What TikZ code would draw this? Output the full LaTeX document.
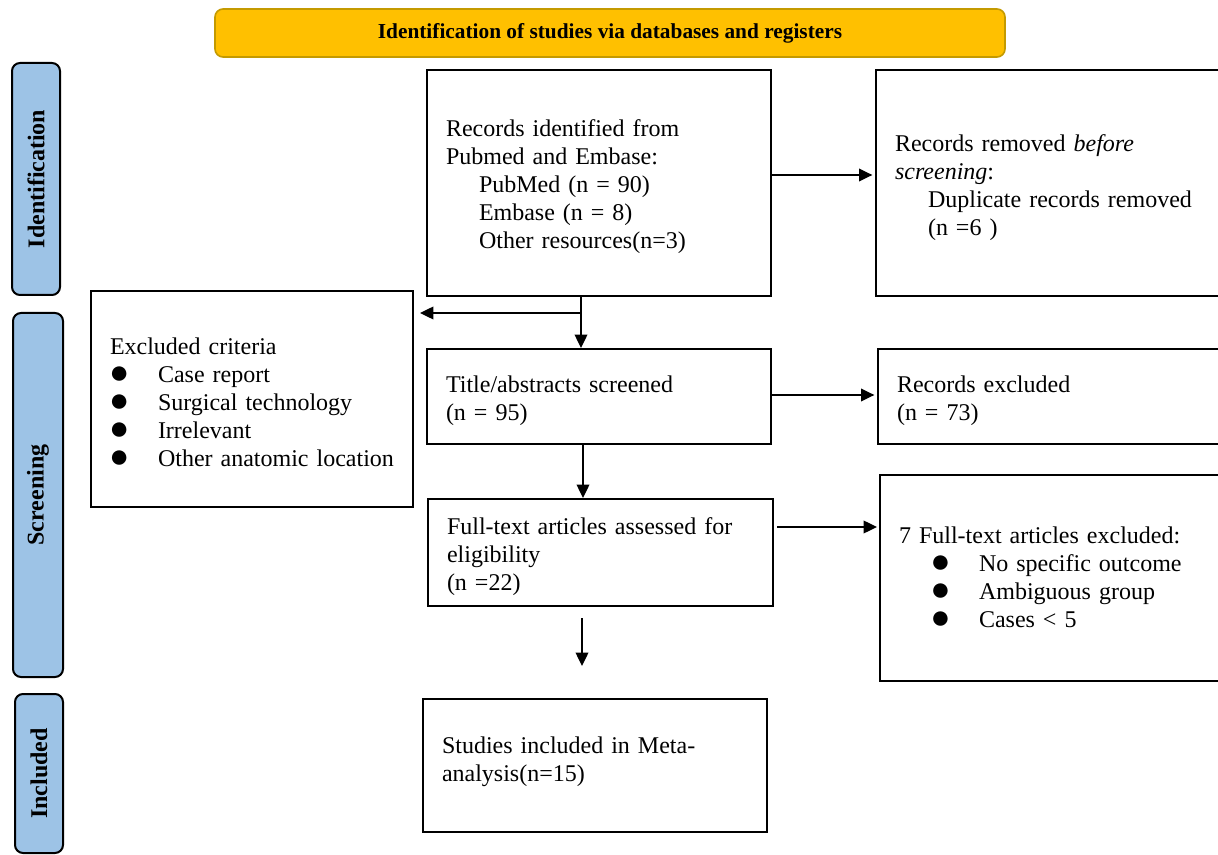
\documentclass[tikz,border=0pt]{standalone}
\usepackage{fontspec}
\setmainfont{Liberation Serif}
\usetikzlibrary{arrows.meta,calc}
\definecolor{bannerfill}{HTML}{FFC000}
\definecolor{bannerdraw}{HTML}{C49A00}
\definecolor{sidefill}{HTML}{9DC3E6}
\newcommand{\ind}{\hspace*{24.75pt}}
\newcommand{\tstrut}[1]{\rule{0pt}{#1}}
\newcommand{\bigbul}{\raisebox{-0.8pt}{\scalebox{1.4}{●}}}
\newcommand{\bulC}{\makebox[36pt][l]{\hspace*{-0.75pt}\bigbul}}
\newcommand{\bulG}{\hspace*{23.5pt}\makebox[36.5pt][l]{\bigbul}}
\begin{document}
\begin{tikzpicture}[x=0.75pt,y=-0.75pt,
  box/.style={draw=black,line width=1.5pt,rectangle,align=left,inner xsep=14.25pt,inner ysep=0pt,
    font=\fontsize{18}{21}\selectfont},
  sidebar/.style={draw=black,line width=1.5pt,fill=sidefill,rounded corners=6pt,rotate=90,
    inner sep=0pt,font=\bfseries\fontsize{18}{21}\selectfont},
  banner/.style={draw=bannerdraw,line width=1.2pt,fill=bannerfill,rounded corners=6pt,
    inner sep=0pt,font=\bfseries\fontsize{16}{19}\selectfont},
  arr/.style={line width=1pt,-{Triangle[length=10pt,width=9.5pt]}}]
\useasboundingbox (0,0) rectangle (1218,855);
\clip (0,0) rectangle (1218,855);

% banner
\node[banner,minimum width=592.5pt,minimum height=36pt] (ban) at (610,33)
  {Identification of studies via databases and registers};

% side bars
\node[sidebar,minimum width=174pt,minimum height=36pt] (sid) at (36,179) {Identification};
\node[sidebar,minimum width=273pt,minimum height=37.5pt] (sscr) at (38,495) {Screening};
\node[sidebar,minimum width=119.25pt,minimum height=36pt] (sinc) at (39,773.5) {Included};

% boxes
\node[box,text width=229.5pt,minimum height=169.5pt] (A) at (599,183)
  {\tstrut{18.5pt}Records identified from\\Pubmed and Embase:\\\ind PubMed (n = 90)\\\ind Embase (n = 8)\\\ind Other resources(n=3)};
\node[box,text width=244.5pt,minimum height=169.5pt] (B) at (1058,183)
  {\tstrut{19pt}Records removed \textit{before}\\\textit{screening}:\\\ind Duplicate records removed\\\ind (n =6 )};
\node[box,text width=213pt,minimum height=162pt] (C) at (252,399)
  {\tstrut{17.5pt}Excluded criteria\\\bulC Case report\\\bulC Surgical technology\\\bulC Irrelevant\\\bulC Other anatomic location};
\node[box,text width=229.5pt,minimum height=71.25pt] (D) at (599,396.5)
  {\tstrut{18.5pt}Title/abstracts screened\\(n = 95)};
\node[box,text width=243pt,minimum height=71.25pt] (E) at (1059,396.5)
  {\tstrut{18.5pt}Records excluded\\(n = 73)};
\node[box,text width=230.25pt,minimum height=80.25pt] (F) at (600.5,552.5)
  {\tstrut{19.5pt}Full-text articles assessed for\\eligibility\\(n =22)};
\node[box,text width=241.5pt,minimum height=154.5pt] (G) at (1060,578)
  {7 Full-text articles excluded:\\\bulG No specific outcome\\\bulG Ambiguous group\\\bulG Cases < 5};
\node[box,text width=229.5pt,minimum height=99.75pt] (H) at (595,765.5)
  {Studies included in Meta-\\analysis(n=15)\rule[-10pt]{0pt}{1pt}};

% helper coordinates
\coordinate (yAB) at (0,175);
\coordinate (xAD) at (581,0);
\coordinate (yBr) at (0,313);
\coordinate (yDE) at (0,395);
\coordinate (xDF) at (583,0);
\coordinate (yFG) at (0,527);
\coordinate (xFH) at (582,0);

% connectors
\draw[arr,shorten >=2pt] (A.east |- yAB) -- (B.west |- yAB);
\draw[arr] (A.south -| xAD) -- (D.north -| xAD);
\draw[arr,shorten >=4.5pt] (xAD |- yBr) -- (C.east |- yBr);
\draw[arr,shorten >=2pt] (D.east |- yDE) -- (E.west |- yDE);
\draw[arr] (D.south -| xDF) -- (F.north -| xDF);
\draw[arr,shorten <=2.25pt,shorten >=1.5pt] (F.east |- yFG) -- (G.west |- yFG);
\draw[arr,shorten <=8.25pt,shorten >=24pt] (F.south -| xFH) -- (H.north -| xFH);
\end{tikzpicture}
\end{document}
